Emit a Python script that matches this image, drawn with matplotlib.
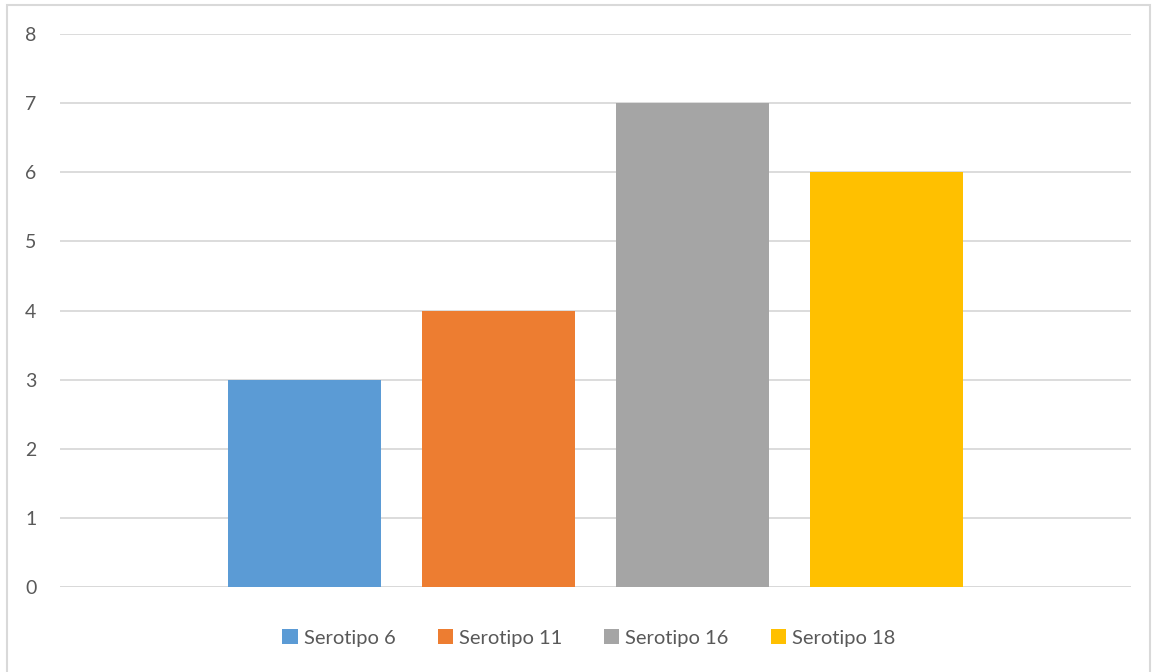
import matplotlib.pyplot as plt
from matplotlib.patches import Rectangle

# Data
series = ["Serotipo 6", "Serotipo 11", "Serotipo 16", "Serotipo 18"]
values = [3, 4, 7, 6]
colors = ["#5B9BD5", "#ED7D31", "#A5A5A5", "#FFC000"]
yticks = [0, 1, 2, 3, 4, 5, 6, 7, 8]

plt.rcParams['font.family'] = ['Lato', 'DejaVu Sans']

W, H = 1153, 672
fig = plt.figure(figsize=(W / 100, H / 100), dpi=100)
ax = fig.add_axes([60 / W, (H - 587) / H, (1131 - 60) / W, (587 - 34) / H])

bar_w = 153 / 1071
step = 194 / 1071
for i, (name, v, c) in enumerate(zip(series, values, colors)):
    ax.bar((i - 1.5) * step, v, width=bar_w, color=c, label=name, zorder=3)

ax.set_xlim(-0.5, 0.5)
ax.set_ylim(0, 8)
ax.set_yticks(yticks)
ax.set_xticks([])
ax.grid(axis='y', color='#D9D9D9', linewidth=1.3, zorder=0)
ax.tick_params(axis='y', length=0, pad=17, labelsize=14, labelcolor='#595959')
for s in ax.spines.values():
    s.set_visible(False)
ax.axhline(0, color='#D9D9D9', linewidth=1.3, zorder=1)

leg = fig.legend(loc='center', bbox_to_anchor=(589 / W, (H - 638) / H), ncol=4,
                 frameon=False, fontsize=14.5, handlelength=0.75, handleheight=0.75,
                 handletextpad=0.3, columnspacing=2.1, labelcolor='#595959')

# outer chart border
fig.patches.append(Rectangle((7 / W, -0.05), (1150 - 7) / W, 0.05 + (H - 5) / H,
                             transform=fig.transFigure, fill=False,
                             edgecolor='#D9D9D9', linewidth=1.5))

fig.savefig('out.png', dpi=100)
